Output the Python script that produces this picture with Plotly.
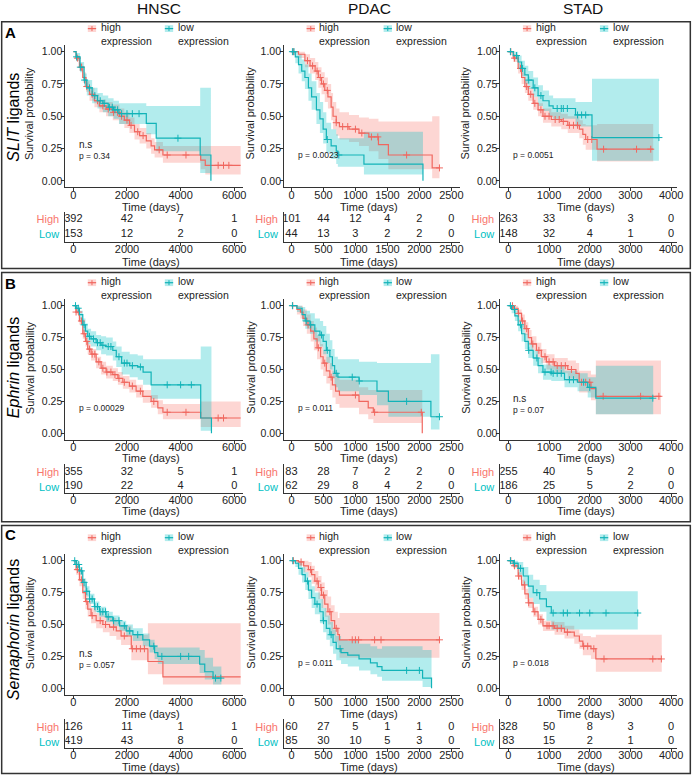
import bisect
import plotly.graph_objects as go

# ------------------------------------------------------------------ data
COHORTS = ["HNSC", "PDAC", "STAD"]
ROW_LETTERS = ["A", "B", "C"]
ROW_LIGANDS = ["SLIT", "Ephrin", "Semaphorin"]
TICKS_HNSC = [0, 2000, 4000, 6000]
TICKS_PDAC = [0, 500, 1000, 1500, 2000, 2500]
TICKS_STAD = [0, 1000, 2000, 3000, 4000]
Y_TICKS = [0, 0.25, 0.5, 0.75, 1.0]
Y_TICK_LABELS = ["0.00", "0.25", "0.50", "0.75", "1.00"]
GROUP_LABELS = ["high", "low"]
TABLE_LABELS = ["High", "Low"]

P_TEXT_A = ["p = 0.34", "p = 0.0023", "p = 0.0051"]
P_TEXT_B = ["p = 0.00029", "p = 0.011", "p = 0.07"]
P_TEXT_C = ["p = 0.057", "p = 0.011", "p = 0.018"]
NS_A = [True, False, False]
NS_B = [False, False, True]
NS_C = [True, False, False]

# ---- Row A (SLIT ligands)
A_HNSC_high_t = [0, 100, 225, 350, 470, 600, 785, 970, 1220, 1470, 1720, 1900, 2090, 2280, 2470, 2720, 2900, 3030, 3340, 4750, 4920, 6240]
A_HNSC_high_s = [1, .95, .88, .80, .73, .67, .62, .58, .555, .53, .50, .47, .43, .38, .35, .31, .27, .24, .20, .16, .12, .12]
A_HNSC_high_lo = [1, .93, .85, .76, .69, .62, .57, .53, .50, .47, .44, .41, .37, .32, .29, .25, .21, .18, .14, .09, .05, .05]
A_HNSC_high_hi = [1, .97, .91, .84, .77, .72, .67, .63, .61, .59, .56, .53, .49, .44, .41, .37, .33, .30, .27, .27, .27, .27]
A_HNSC_high_cens = [150, 300, 500, 700, 900, 1100, 1300, 1500, 1650, 1800, 2000, 2150, 2400, 2600, 3200, 3500, 4200, 5400, 5600, 5800]
A_HNSC_low_t = [0, 100, 250, 400, 500, 700, 900, 1100, 1300, 1500, 1700, 2720, 3090, 4730, 5130]
A_HNSC_low_s = [1, .96, .88, .78, .72, .66, .62, .60, .57, .55, .52, .445, .33, .20, 0]
A_HNSC_low_lo = [1, .93, .84, .73, .66, .60, .56, .53, .50, .48, .44, .36, .23, .06, 0]
A_HNSC_low_hi = [1, .99, .92, .83, .78, .72, .68, .66, .64, .62, .60, .58, .58, .72, .72]
A_HNSC_low_cens = [120, 260, 420, 600, 800, 1000, 1150, 1350, 1450, 1550, 1650, 1800, 2000, 2200, 2450, 3900]

A_PDAC_high_t = [0, 110, 210, 290, 370, 420, 470, 520, 570, 620, 650, 700, 750, 900, 1056, 1210, 1360, 1515, 2200, 2314]
A_PDAC_high_s = [1, .98, .93, .89, .85, .80, .75, .70, .65, .57, .50, .45, .42, .40, .37, .34, .28, .20, .10, .10]
A_PDAC_high_lo = [1, .95, .88, .83, .78, .72, .67, .61, .56, .47, .40, .35, .32, .30, .27, .23, .17, .09, .02, .02]
A_PDAC_high_hi = [1, 1, .98, .95, .92, .88, .84, .80, .75, .68, .61, .56, .53, .51, .49, .48, .46, .46, .50, .50]
A_PDAC_high_cens = [30, 250, 330, 400, 450, 500, 560, 700, 800, 880, 1000, 1100, 1250, 1350, 1800, 2314]
A_PDAC_low_t = [0, 60, 110, 160, 210, 265, 315, 390, 445, 495, 545, 620, 700, 725, 1133, 2056]
A_PDAC_low_s = [1, .96, .90, .85, .80, .72, .65, .55, .48, .40, .32, .27, .23, .20, .13, 0]
A_PDAC_low_lo = [1, .91, .83, .77, .71, .62, .55, .44, .37, .29, .22, .17, .13, .11, .05, 0]
A_PDAC_low_hi = [1, 1, .98, .94, .90, .83, .77, .68, .61, .53, .45, .40, .36, .33, .38, .38]
A_PDAC_low_cens = [15, 40, 560, 740]

A_STAD_high_t = [0, 120, 240, 325, 405, 490, 610, 730, 850, 1055, 1300, 1460, 1745, 1830, 1900, 2180, 3560]
A_STAD_high_s = [1, .95, .87, .80, .73, .67, .60, .55, .50, .475, .46, .43, .40, .36, .32, .245, .245]
A_STAD_high_lo = [1, .92, .83, .75, .68, .62, .55, .50, .45, .42, .40, .37, .33, .28, .24, .15, .15]
A_STAD_high_hi = [1, .98, .91, .84, .78, .72, .65, .60, .56, .53, .52, .50, .47, .44, .43, .44, .44]
A_STAD_high_cens = [60, 150, 300, 450, 550, 650, 800, 900, 1000, 1150, 1250, 1350, 1500, 1600, 1700, 1950, 2050, 2340, 3150, 3500]
A_STAD_low_t = [0, 120, 240, 325, 405, 490, 610, 730, 850, 1000, 1100, 1650, 2055, 3700]
A_STAD_low_s = [1, .97, .92, .87, .82, .78, .72, .66, .62, .58, .56, .51, .335, .335]
A_STAD_low_lo = [1, .94, .87, .81, .75, .71, .65, .58, .54, .50, .48, .42, .155, .155]
A_STAD_low_hi = [1, 1, .97, .93, .89, .85, .80, .74, .70, .66, .64, .61, .79, .79]
A_STAD_low_cens = [50, 200, 350, 500, 650, 800, 1200, 1300, 1350, 1450, 1700, 1800, 1900, 3700]

# ---- Row B (Ephrin ligands)
B_HNSC_high_t = [0, 100, 225, 350, 450, 535, 660, 850, 1035, 1220, 1470, 1660, 1845, 2090, 2340, 2590, 2900, 3150, 3340, 4750, 6240]
B_HNSC_high_s = [1, .95, .88, .78, .72, .66, .62, .56, .51, .48, .46, .43, .40, .37, .33, .29, .25, .20, .165, .12, .12]
B_HNSC_high_lo = [1, .93, .85, .74, .68, .62, .57, .51, .46, .43, .41, .38, .35, .32, .28, .24, .20, .15, .11, .05, .05]
B_HNSC_high_hi = [1, .97, .91, .82, .76, .70, .66, .60, .56, .53, .51, .48, .45, .42, .38, .34, .30, .26, .23, .25, .25]
B_HNSC_high_cens = [100, 200, 300, 400, 500, 600, 700, 800, 950, 1100, 1250, 1400, 1550, 1700, 1900, 2200, 2500, 3000, 3500, 4200, 5400, 5600]
B_HNSC_low_t = [0, 100, 225, 350, 450, 535, 660, 850, 1035, 1220, 1470, 1600, 1800, 2100, 2400, 2600, 2900, 4750, 5150]
B_HNSC_low_s = [1, .98, .93, .85, .80, .76, .74, .71, .69, .68, .65, .60, .55, .53, .52, .48, .38, .12, 0]
B_HNSC_low_lo = [1, .96, .89, .80, .74, .70, .68, .65, .62, .61, .57, .52, .46, .44, .42, .38, .27, .02, 0]
B_HNSC_low_hi = [1, 1, .96, .90, .86, .82, .80, .77, .76, .75, .72, .68, .64, .62, .61, .58, .58, .68, .68]
B_HNSC_low_cens = [80, 180, 400, 600, 750, 900, 1000, 1100, 1300, 1400, 1700, 1900, 2000, 2200, 2500, 3500, 4000, 4400]

B_PDAC_high_t = [0, 85, 140, 180, 240, 300, 350, 400, 455, 495, 545, 600, 640, 690, 750, 1056, 1200, 1280, 2045]
B_PDAC_high_s = [1, .97, .95, .90, .85, .80, .74, .67, .60, .55, .49, .44, .38, .33, .30, .25, .20, .165, 0]
B_PDAC_high_lo = [1, .93, .90, .84, .78, .72, .65, .58, .50, .45, .39, .34, .28, .23, .20, .15, .11, .08, 0]
B_PDAC_high_hi = [1, 1, 1, .97, .93, .88, .83, .77, .70, .65, .60, .55, .49, .45, .42, .36, .34, .34, .34]
B_PDAC_high_cens = [20, 260, 420, 520, 620, 1000, 1300, 2030]
B_PDAC_low_t = [0, 85, 165, 215, 290, 365, 445, 495, 545, 600, 640, 675, 725, 1056, 1337, 1515, 2180, 2314]
B_PDAC_low_s = [1, .98, .93, .88, .85, .80, .77, .72, .65, .60, .53, .47, .44, .41, .33, .25, .13, .13]
B_PDAC_low_lo = [1, .95, .88, .82, .78, .72, .68, .62, .55, .50, .43, .36, .33, .30, .22, .13, .03, .03]
B_PDAC_low_hi = [1, 1, .99, .96, .94, .90, .88, .84, .78, .73, .66, .60, .58, .56, .55, .55, .62, .62]
B_PDAC_low_cens = [15, 230, 300, 470, 560, 700, 950, 1060, 1800, 2314]

B_STAD_high_t = [0, 120, 240, 325, 405, 490, 570, 690, 810, 935, 1135, 1460, 1660, 1740, 2030, 2150, 3750]
B_STAD_high_s = [1, .98, .94, .88, .82, .75, .70, .65, .60, .56, .53, .50, .47, .40, .35, .29, .29]
B_STAD_high_lo = [1, .96, .90, .83, .77, .70, .65, .60, .55, .50, .47, .43, .40, .32, .26, .15, .15]
B_STAD_high_hi = [1, 1, .97, .93, .87, .81, .76, .71, .66, .62, .59, .57, .55, .49, .46, .57, .57]
B_STAD_high_cens = [100, 250, 350, 450, 600, 750, 900, 1000, 1100, 1200, 1300, 1400, 1550, 1800, 1900, 2000, 2330, 3250, 3700]
B_STAD_low_t = [0, 80, 160, 240, 325, 405, 490, 610, 730, 850, 1055, 1380, 1700, 1950, 2150, 3560]
B_STAD_low_s = [1, .97, .92, .85, .78, .72, .65, .59, .53, .48, .47, .42, .40, .36, .275, .275]
B_STAD_low_lo = [1, .94, .88, .80, .72, .66, .59, .53, .47, .42, .41, .36, .33, .28, .15, .15]
B_STAD_low_hi = [1, 1, .96, .90, .84, .78, .71, .65, .59, .54, .53, .49, .47, .44, .53, .53]
B_STAD_low_cens = [50, 150, 300, 500, 700, 900, 1050, 1100, 1200, 1300, 1500, 1600, 1850, 2000, 3550]

# ---- Row C (Semaphorin ligands)
C_HNSC_high_t = [0, 100, 225, 350, 450, 535, 660, 850, 1100, 1350, 1600, 1780, 2160, 2780, 3340, 6240]
C_HNSC_high_s = [1, .93, .85, .75, .68, .62, .57, .53, .50, .48, .45, .41, .31, .21, .09, .09]
C_HNSC_high_lo = [1, .89, .80, .70, .62, .56, .51, .47, .44, .41, .38, .34, .22, .11, .03, .03]
C_HNSC_high_hi = [1, .98, .91, .81, .74, .68, .63, .59, .57, .55, .52, .49, .42, .51, .51, .51]
C_HNSC_high_cens = [150, 300, 500, 700, 1000, 1200, 1500, 1900, 2200, 2350, 2500, 2650]
C_HNSC_low_t = [0, 100, 225, 350, 475, 600, 785, 970, 1220, 1470, 1720, 1970, 2220, 2590, 2840, 3030, 3150, 4710, 4900, 5210, 5520]
C_HNSC_low_s = [1, .97, .92, .83, .76, .70, .64, .60, .56, .53, .49, .45, .42, .38, .33, .28, .25, .19, .13, .08, .08]
C_HNSC_low_lo = [1, .95, .89, .79, .72, .66, .60, .56, .52, .49, .45, .41, .37, .33, .28, .23, .19, .12, .07, .03, .03]
C_HNSC_low_hi = [1, .99, .95, .86, .80, .74, .68, .64, .60, .57, .53, .50, .47, .43, .38, .34, .32, .30, .24, .17, .17]
C_HNSC_low_cens = [50, 120, 200, 300, 400, 500, 600, 700, 800, 900, 1000, 1100, 1200, 1300, 1500, 1700, 1900, 2100, 2400, 3000, 3300, 4000, 4300, 5300, 5500]

C_PDAC_high_t = [0, 110, 190, 265, 315, 365, 420, 470, 520, 570, 620, 675, 725, 750, 2314]
C_PDAC_high_s = [1, .99, .96, .93, .89, .84, .79, .73, .66, .60, .53, .47, .42, .38, .38]
C_PDAC_high_lo = [1, .96, .91, .87, .82, .76, .70, .63, .56, .50, .42, .36, .30, .24, .24]
C_PDAC_high_hi = [1, 1, 1, .99, .96, .92, .88, .83, .77, .72, .65, .60, .55, .59, .59]
C_PDAC_high_cens = [30, 150, 300, 400, 460, 500, 600, 700, 950, 1000, 1050, 1300, 1400, 2314]
C_PDAC_low_t = [0, 60, 110, 165, 215, 265, 315, 365, 445, 495, 545, 600, 650, 700, 775, 880, 1056, 1235, 1340, 1415, 2050, 2190]
C_PDAC_low_s = [1, .98, .94, .89, .84, .77, .71, .66, .60, .53, .47, .42, .36, .31, .28, .26, .23, .20, .17, .14, .08, 0]
C_PDAC_low_lo = [1, .95, .89, .83, .77, .70, .63, .58, .51, .44, .38, .33, .27, .22, .19, .17, .14, .11, .09, .06, .01, 0]
C_PDAC_low_hi = [1, 1, .99, .95, .91, .85, .80, .75, .70, .63, .57, .52, .46, .41, .38, .37, .35, .33, .31, .33, .30, .30]
C_PDAC_low_cens = [20, 250, 400, 500, 620, 760, 1800, 2000]

C_STAD_high_t = [0, 120, 240, 325, 405, 490, 610, 730, 850, 1135, 1380, 1620, 1745, 1830, 2030, 2150, 3770]
C_STAD_high_s = [1, .96, .88, .81, .74, .67, .60, .54, .49, .47, .44, .41, .37, .33, .31, .23, .23]
C_STAD_high_lo = [1, .94, .85, .77, .70, .63, .56, .50, .45, .42, .39, .35, .31, .26, .23, .13, .13]
C_STAD_high_hi = [1, .98, .91, .85, .78, .71, .64, .58, .53, .52, .49, .46, .43, .41, .40, .42, .42]
C_STAD_high_cens = [60, 150, 250, 400, 500, 650, 800, 950, 1000, 1100, 1200, 1300, 1450, 1850, 1950, 2100, 2350, 3550, 3760]
C_STAD_low_t = [0, 120, 240, 365, 490, 610, 770, 935, 1055, 3180]
C_STAD_low_s = [1, .98, .94, .88, .80, .75, .70, .64, .59, .59]
C_STAD_low_lo = [1, .95, .89, .81, .71, .66, .60, .53, .46, .46]
C_STAD_low_hi = [1, 1, .99, .95, .89, .85, .81, .76, .76, .76]
C_STAD_low_cens = [50, 150, 300, 700, 1100, 1350, 1450, 1750, 2000, 2400, 3180]

# ---- numbers at risk
RISK_A_HNSC_high = [392, 42, 7, 1]
RISK_A_HNSC_low = [153, 12, 2, 0]
RISK_A_PDAC_high = [101, 44, 12, 4, 2, 0]
RISK_A_PDAC_low = [44, 13, 3, 2, 2, 0]
RISK_A_STAD_high = [263, 33, 6, 3, 0]
RISK_A_STAD_low = [148, 32, 4, 1, 0]
RISK_B_HNSC_high = [355, 32, 5, 1]
RISK_B_HNSC_low = [190, 22, 4, 0]
RISK_B_PDAC_high = [83, 28, 7, 2, 2, 0]
RISK_B_PDAC_low = [62, 29, 8, 4, 2, 0]
RISK_B_STAD_high = [255, 40, 5, 2, 0]
RISK_B_STAD_low = [186, 25, 5, 2, 0]
RISK_C_HNSC_high = [126, 11, 1, 1]
RISK_C_HNSC_low = [419, 43, 8, 0]
RISK_C_PDAC_high = [60, 27, 5, 1, 1, 0]
RISK_C_PDAC_low = [85, 30, 10, 5, 3, 0]
RISK_C_STAD_high = [328, 50, 8, 3, 0]
RISK_C_STAD_low = [83, 15, 2, 1, 0]

# ------------------------------------------------------------------ assembly
G = globals()
COL_TICKS = [TICKS_HNSC, TICKS_PDAC, TICKS_STAD]
P_TEXTS = [P_TEXT_A, P_TEXT_B, P_TEXT_C]
NS_FLAGS = [NS_A, NS_B, NS_C]

W, H = 699, 776
FONT = "Liberation Sans, Arial, sans-serif"
RED, CYAN = "#F8766D", "#00BFC4"
RED_LINE, CYAN_LINE = "#F0675F", "#12B3B8"
RED_FILL, CYAN_FILL = "rgba(248,118,109,0.30)", "rgba(0,191,196,0.30)"
AX_COL = "#333333"
TXT_COL = "#222222"

# layout geometry (pixels)
COL_LEFT = [66, 287, 505.5]
COL_RANGE = [(-300, 6340), (-115, 2640), (-195, 4135)]
COL_PXDAY = [0.02708, 0.0646, 0.0411]
MAIN_TOP = [45.2, 299.3, 554.3]
MAIN_BOT = [187.3, 439.7, 694.7]
TAB = [(212, 219.5, 234, 241.5), (463.5, 472.3, 486.7, 492.5), (719.3, 727.3, 741.7, 748)]
XTITLE_Y = [206.7, 458.3, 713.6]
TTITLE_Y = [262, 511, 767]
YTITLE_X = [30, 252.7, 470]
YTITLE_Y = [113.3, 367.5, 622.5]
P_X = [77.5, 298.5, 516]
NS_Y = [145.7, 399, 654]
P_Y = [155, 408.3, 663]
COLTITLE_X = [160.5, 372.8, 589.3]
LETTER_POS = [(10.8, 33), (10.5, 283), (10.5, 534.5)]
ROWLAB_POS = [(13.3, 117.5), (13.3, 368), (13.3, 630)]
BOXES = [(1.7, 21.7, 697.3, 268.5), (1.7, 272.5, 697.3, 521.8), (1.7, 525.5, 697.3, 773.5)]


def fx(p):
    return p / W


def fy(p):
    return 1 - p / H


def step_at(ts, ss, x):
    i = bisect.bisect_right(ts, x) - 1
    return ss[max(i, 0)]


fig = go.Figure()
layout = dict(
    width=W, height=H, margin=dict(l=0, r=0, t=0, b=0),
    paper_bgcolor="white", plot_bgcolor="white", showlegend=False,
    font=dict(family=FONT, color=TXT_COL),
)
annotations = []
shapes = []


def ann(text, x, y, size, xanchor="center", yanchor="middle", angle=0, color=TXT_COL, bold=False):
    annotations.append(dict(
        text=f"<b>{text}</b>" if bold else text, x=fx(x), y=fy(y), xref="paper", yref="paper",
        xanchor=xanchor, yanchor=yanchor, showarrow=False, textangle=angle,
        font=dict(size=size, color=color, family=FONT), align="left",
    ))


for r in range(3):
    L = ROW_LETTERS[r]
    for c in range(3):
        name = COHORTS[c]
        k = r * 3 + c + 1
        kt = k + 9
        left = COL_LEFT[c]
        x0, x1 = COL_RANGE[c]
        right = left + (x1 - x0) * COL_PXDAY[c]
        ticks = COL_TICKS[c]

        xa = dict(domain=[fx(left), fx(right)], range=[x0, x1], anchor=f"y{k}",
                  showline=True, linecolor=AX_COL, linewidth=1, ticks="outside", ticklen=3,
                  tickcolor=AX_COL, tickvals=ticks, ticktext=[str(v) for v in ticks],
                  tickfont=dict(size=11, color=TXT_COL), ticklabelstandoff=-6,
                  showgrid=False, zeroline=False)
        ya = dict(domain=[fy(MAIN_BOT[r]), fy(MAIN_TOP[r])], range=[-0.05, 1.05], anchor=f"x{k}",
                  showline=True, linecolor=AX_COL, linewidth=1, ticks="outside", ticklen=3,
                  tickcolor=AX_COL, tickvals=Y_TICKS, ticktext=Y_TICK_LABELS,
                  tickfont=dict(size=10.5, color=TXT_COL), ticklabelstandoff=-3,
                  showgrid=False, zeroline=False)
        layout[f"xaxis{k}"] = xa
        layout[f"yaxis{k}"] = ya

        ttop, thigh, tlow, tbot = TAB[r]
        unit = tlow - thigh
        yr = [-(tbot - tlow) / unit, 1 + (thigh - ttop) / unit]
        layout[f"xaxis{kt}"] = dict(xa, anchor=f"y{kt}")
        layout[f"yaxis{kt}"] = dict(
            domain=[fy(tbot), fy(ttop)], range=yr, anchor=f"x{kt}", showline=True,
            linecolor=AX_COL, linewidth=1, ticks="", tickvals=[1, 0],
            ticktext=[f'<span style="color:{RED}">{TABLE_LABELS[0]}</span>',
                      f'<span style="color:{CYAN}">{TABLE_LABELS[1]}</span>'],
            tickfont=dict(size=11), ticklabelstandoff=3, showgrid=False, zeroline=False)

        groups = [("high", RED_LINE, RED_FILL), ("low", CYAN_LINE, CYAN_FILL)]
        # confidence bands
        for g, col, fill in groups:
            base = f"{L}_{name}_{g}"
            t = G[base + "_t"]
            fig.add_trace(go.Scatter(x=t, y=G[base + "_lo"], mode="lines", line=dict(width=0, shape="hv"),
                                     xaxis=f"x{k}", yaxis=f"y{k}", hoverinfo="skip"))
            fig.add_trace(go.Scatter(x=t, y=G[base + "_hi"], mode="lines", line=dict(width=0, shape="hv"),
                                     fill="tonexty", fillcolor=fill,
                                     xaxis=f"x{k}", yaxis=f"y{k}", hoverinfo="skip"))
        # survival lines and censor marks
        for g, col, fill in groups:
            base = f"{L}_{name}_{g}"
            t, s = G[base + "_t"], G[base + "_s"]
            fig.add_trace(go.Scatter(x=t, y=s, mode="lines", line=dict(width=1.2, color=col, shape="hv"),
                                     xaxis=f"x{k}", yaxis=f"y{k}"))
            cens = G[base + "_cens"]
            fig.add_trace(go.Scatter(x=cens, y=[step_at(t, s, v) for v in cens], mode="markers",
                                     marker=dict(symbol="cross-thin", size=5, line=dict(width=1, color=col)),
                                     xaxis=f"x{k}", yaxis=f"y{k}"))
        # risk table
        for gi, g in enumerate(["high", "low"]):
            counts = G[f"RISK_{L}_{name}_{g}"]
            fig.add_trace(go.Scatter(x=ticks, y=[1 - gi] * len(ticks), mode="text",
                                     text=[str(v) for v in counts],
                                     textfont=dict(size=11, color=TXT_COL, family=FONT),
                                     textposition="middle center",
                                     xaxis=f"x{kt}", yaxis=f"y{kt}"))

        # titles
        ann("Survival probability", YTITLE_X[c], YTITLE_Y[r], 11, angle=-90)
        ann("Time (days)", (left + right) / 2 - 3, XTITLE_Y[r], 11)
        ann("Time (days)", (left + right) / 2 - 3, TTITLE_Y[r], 11)
        if NS_FLAGS[r][c]:
            ann(f'<span style="font-size:10px">n.s</span><br>{P_TEXTS[r][c]}',
                P_X[c], (NS_Y[r] + P_Y[r]) / 2, 8.5, xanchor="left")
        else:
            ann(P_TEXTS[r][c], P_X[c], P_Y[r], 8.5, xanchor="left")

        # legend keys
        ly = MAIN_TOP[r] - 11.5
        sy = MAIN_TOP[r] - 16.6
        for gi, (g, col, fill) in enumerate(groups):
            sx0 = left + (22.7 if gi == 0 else 100.5)
            sx1 = sx0 + 8.4
            shapes.append(dict(type="rect", xref="paper", yref="paper", x0=fx(sx0), x1=fx(sx1),
                               y0=fy(sy + 3.4), y1=fy(sy - 3.4), fillcolor=fill, line=dict(width=0)))
            shapes.append(dict(type="line", xref="paper", yref="paper", x0=fx(sx0), x1=fx(sx1),
                               y0=fy(sy), y1=fy(sy), line=dict(color=col, width=1.2)))
            shapes.append(dict(type="line", xref="paper", yref="paper", x0=fx((sx0 + sx1) / 2),
                               x1=fx((sx0 + sx1) / 2), y0=fy(sy - 2.5), y1=fy(sy + 2.5),
                               line=dict(color=col, width=1)))
            ann(f"{GROUP_LABELS[gi]}<br>expression", sx1 + 2.5, ly, 10.5, xanchor="left")

    # row decorations
    bx0, by0, bx1, by1 = BOXES[r]
    shapes.append(dict(type="rect", xref="paper", yref="paper", x0=fx(bx0), x1=fx(bx1),
                       y0=fy(by1), y1=fy(by0), line=dict(color=AX_COL, width=1.5)))
    lx, lyy = LETTER_POS[r]
    ann(ROW_LETTERS[r], lx, lyy, 15, bold=True, color="#000000")
    rx, ry = ROWLAB_POS[r]
    ann(f"<i>{ROW_LIGANDS[r]}</i> ligands", rx, ry, 16, angle=-90, color="#000000")

for c in range(3):
    ann(COHORTS[c], COLTITLE_X[c], 8.5, 15.5, color="#111111")

layout["annotations"] = annotations
layout["shapes"] = shapes
fig.update_layout(**layout)
fig.write_html("out.html", config={"displayModeBar": False},
               post_script="document.body.style.margin='0px';")
